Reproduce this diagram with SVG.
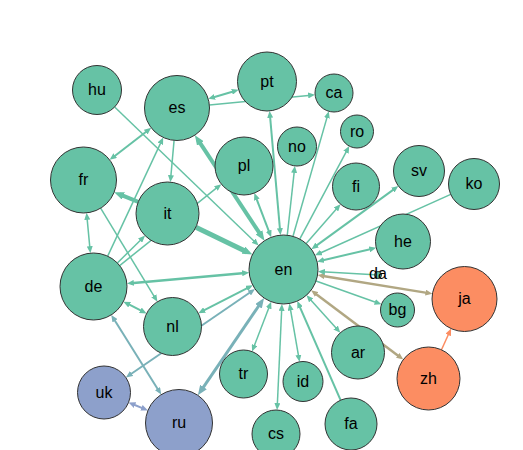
<svg xmlns="http://www.w3.org/2000/svg" width="523" height="450" viewBox="0 0 523 450">
<style>
.n circle{stroke:#333;stroke-width:1}
.n text{font-family:"Liberation Sans",Arial,sans-serif;font-size:16px;text-anchor:middle;fill:#000}
.g circle{fill:#66c2a5}.o circle{fill:#fc8d62}.b circle{fill:#8da0cb}
#links line{fill:none}
.eg{stroke:#66c2a5}.ebg{stroke:#79b1b8}.et{stroke:#b1a783}.eo{stroke:#fc8d62}.eb{stroke:#8da0cb}
</style>
<defs>
<marker id="ag" viewBox="0 0 7 6" refX="3" refY="3" markerWidth="7" markerHeight="6" markerUnits="userSpaceOnUse" orient="auto-start-reverse"><path d="M0,0L7,3L0,6z" fill="#66c2a5"/></marker>
<marker id="agL" viewBox="0 0 10 8" refX="4" refY="4" markerWidth="10" markerHeight="8" markerUnits="userSpaceOnUse" orient="auto-start-reverse"><path d="M0,0L10,4L0,8z" fill="#66c2a5"/></marker>
<marker id="abg" viewBox="0 0 7 6" refX="3" refY="3" markerWidth="7" markerHeight="6" markerUnits="userSpaceOnUse" orient="auto-start-reverse"><path d="M0,0L7,3L0,6z" fill="#79b1b8"/></marker>
<marker id="abgL" viewBox="0 0 10 8" refX="4" refY="4" markerWidth="10" markerHeight="8" markerUnits="userSpaceOnUse" orient="auto-start-reverse"><path d="M0,0L10,4L0,8z" fill="#79b1b8"/></marker>
<marker id="at" viewBox="0 0 7 6" refX="3" refY="3" markerWidth="7" markerHeight="6" markerUnits="userSpaceOnUse" orient="auto-start-reverse"><path d="M0,0L7,3L0,6z" fill="#b1a783"/></marker>
<marker id="ao" viewBox="0 0 7 6" refX="3" refY="3" markerWidth="7" markerHeight="6" markerUnits="userSpaceOnUse" orient="auto-start-reverse"><path d="M0,0L7,3L0,6z" fill="#fc8d62"/></marker>
<marker id="ab" viewBox="0 0 7 6" refX="3" refY="3" markerWidth="7" markerHeight="6" markerUnits="userSpaceOnUse" orient="auto-start-reverse"><path d="M0,0L7,3L0,6z" fill="#8da0cb"/></marker>
</defs>
<g id="links" stroke-width="1.5">
<line class="eg" x1="114.65" y1="106.99" x2="255.76" y2="242.80" marker-end="url(#ag)"/>
<line class="eg" x1="212.02" y1="97.69" x2="234.86" y2="90.96" stroke-width="2" marker-start="url(#ag)" marker-end="url(#ag)"/>
<line class="eg" x1="209.35" y1="104.91" x2="311.11" y2="95.19" marker-end="url(#ag)"/>
<line class="eg" x1="148.08" y1="130.27" x2="112.82" y2="157.43" stroke-width="2" marker-start="url(#ag)" marker-end="url(#ag)"/>
<line class="eg" x1="174.08" y1="140.37" x2="170.69" y2="178.15" marker-end="url(#ag)"/>
<line class="eg" x1="198.19" y1="140.14" x2="261.21" y2="235.69" stroke-width="4" marker-start="url(#agL)" marker-end="url(#agL)"/>
<line class="eg" x1="107.69" y1="256.16" x2="161.54" y2="141.06" marker-end="url(#ag)"/>
<line class="eg" x1="138.24" y1="201.83" x2="119.72" y2="194.44" stroke-width="4" marker-end="url(#agL)"/>
<line class="eg" x1="119.65" y1="265.56" x2="218.24" y2="186.63" marker-end="url(#ag)"/>
<line class="eg" x1="195.87" y1="227.19" x2="247.03" y2="251.89" stroke-width="5" marker-end="url(#agL)"/>
<line class="eg" x1="86.96" y1="216.83" x2="90.00" y2="249.17" marker-start="url(#ag)" marker-end="url(#ag)"/>
<line class="eg" x1="100.63" y1="208.20" x2="155.36" y2="298.30" marker-end="url(#ag)"/>
<line class="eg" x1="117.35" y1="262.97" x2="142.23" y2="238.43" marker-end="url(#ag)"/>
<line class="eg" x1="130.85" y1="283.15" x2="245.16" y2="272.93" stroke-width="2.5" marker-start="url(#ag)" marker-end="url(#ag)"/>
<line class="eg" x1="126.96" y1="303.44" x2="143.06" y2="311.59" stroke-width="2" marker-start="url(#ag)" marker-end="url(#ag)"/>
<line class="eg" x1="201.86" y1="311.42" x2="249.25" y2="287.09" stroke-width="2" marker-start="url(#ag)" marker-end="url(#ag)"/>
<line class="ebg" x1="129.16" y1="375.26" x2="251.74" y2="291.26" stroke-width="2" marker-start="url(#abg)" marker-end="url(#abg)"/>
<line class="ebg" x1="201.23" y1="390.35" x2="260.71" y2="302.98" stroke-width="3" marker-start="url(#abgL)" marker-end="url(#abgL)"/>
<line class="ebg" x1="113.40" y1="318.28" x2="159.10" y2="391.22" stroke-width="2" marker-start="url(#abg)" marker-end="url(#abg)"/>
<line class="eb" x1="132.26" y1="403.99" x2="144.26" y2="408.87" stroke-width="2" marker-start="url(#ab)" marker-end="url(#ab)"/>
<line class="eg" x1="269.74" y1="305.46" x2="253.51" y2="347.85" marker-start="url(#ag)" marker-end="url(#ag)"/>
<line class="eg" x1="281.75" y1="307.96" x2="277.27" y2="406.03" marker-start="url(#ag)" marker-end="url(#ag)"/>
<line class="eg" x1="290.11" y1="307.43" x2="298.88" y2="357.86" marker-start="url(#ag)" marker-end="url(#ag)"/>
<line class="eg" x1="340.59" y1="400.17" x2="298.91" y2="304.79" stroke-width="2" marker-end="url(#ag)"/>
<line class="eg" x1="309.22" y1="298.15" x2="337.63" y2="329.80" marker-start="url(#ag)" marker-end="url(#ag)"/>
<line class="et" x1="314.28" y1="292.63" x2="400.12" y2="357.17" stroke-width="2.5" marker-start="url(#at)" marker-end="url(#at)"/>
<line class="et" x1="321.50" y1="275.69" x2="428.47" y2="293.13" stroke-width="2.5" marker-start="url(#at)" marker-end="url(#at)"/>
<line class="eo" x1="441.49" y1="349.80" x2="449.44" y2="332.25" marker-end="url(#ao)"/>
<line class="eg" x1="316.01" y1="281.05" x2="377.71" y2="302.97" marker-end="url(#ag)"/>
<line class="eg" x1="374.51" y1="274.80" x2="321.93" y2="271.73" marker-end="url(#ag)"/>
<line class="eg" x1="320.98" y1="260.72" x2="372.34" y2="248.68" stroke-width="2" marker-start="url(#ag)" marker-end="url(#ag)"/>
<line class="eg" x1="450.74" y1="194.44" x2="318.62" y2="253.73" marker-end="url(#ag)"/>
<line class="eg" x1="314.65" y1="246.86" x2="395.14" y2="188.34" stroke-width="2" marker-start="url(#ag)" marker-end="url(#ag)"/>
<line class="eg" x1="306.19" y1="243.52" x2="337.91" y2="207.21" marker-end="url(#ag)"/>
<line class="eg" x1="299.72" y1="239.05" x2="347.36" y2="149.59" marker-end="url(#ag)"/>
<line class="eg" x1="292.99" y1="236.33" x2="327.67" y2="115.12" marker-end="url(#ag)"/>
<line class="eg" x1="287.26" y1="235.21" x2="294.43" y2="169.86" marker-end="url(#ag)"/>
<line class="eg" x1="280.13" y1="231.15" x2="269.93" y2="114.87" stroke-width="2" marker-start="url(#ag)" marker-end="url(#ag)"/>
<line class="eg" x1="269.77" y1="233.53" x2="255.77" y2="196.83" stroke-width="2" marker-start="url(#ag)" marker-end="url(#ag)"/>
</g>
<g id="nodes">
<g id="n-hu" class="n g"><circle cx="97" cy="90" r="24.5"/><text x="97" y="95">hu</text></g>
<g id="n-es" class="n g"><circle cx="177" cy="108" r="32.5"/><text x="177" y="113">es</text></g>
<g id="n-pt" class="n g"><circle cx="267" cy="81.5" r="29.5"/><text x="267" y="86.5">pt</text></g>
<g id="n-ca" class="n g"><circle cx="334" cy="93" r="19"/><text x="334" y="98">ca</text></g>
<g id="n-ro" class="n g"><circle cx="357" cy="131.5" r="16.5"/><text x="357" y="136.5">ro</text></g>
<g id="n-no" class="n g"><circle cx="297" cy="146.5" r="19.5"/><text x="297" y="151.5">no</text></g>
<g id="n-pl" class="n g"><circle cx="244" cy="166" r="29"/><text x="244" y="171">pl</text></g>
<g id="n-fi" class="n g"><circle cx="356" cy="186.5" r="23.5"/><text x="356" y="191.5">fi</text></g>
<g id="n-sv" class="n g"><circle cx="419" cy="171" r="25.5"/><text x="419" y="176">sv</text></g>
<g id="n-ko" class="n g"><circle cx="474" cy="184" r="25.5"/><text x="474" y="189">ko</text></g>
<g id="n-fr" class="n g"><circle cx="83.5" cy="180" r="33"/><text x="83.5" y="185">fr</text></g>
<g id="n-it" class="n g"><circle cx="167.5" cy="213.5" r="31.5"/><text x="167.5" y="218.5">it</text></g>
<g id="n-en" class="n g"><circle cx="283.5" cy="269.5" r="34.5"/><text x="283.5" y="274.5">en</text></g>
<g id="n-he" class="n g"><circle cx="403" cy="241.5" r="27.5"/><text x="403" y="246.5">he</text></g>
<g id="n-da" class="n g"><circle cx="378" cy="275" r="3.5"/><text x="378" y="279">da</text></g>
<g id="n-ja" class="n o"><circle cx="464.5" cy="299" r="32.5"/><text x="464.5" y="304">ja</text></g>
<g id="n-bg" class="n g"><circle cx="397.5" cy="310" r="17"/><text x="397.5" y="315">bg</text></g>
<g id="n-ar" class="n g"><circle cx="358" cy="352.5" r="26.5"/><text x="358" y="357.5">ar</text></g>
<g id="n-zh" class="n o"><circle cx="428.5" cy="378.5" r="31.5"/><text x="428.5" y="383.5">zh</text></g>
<g id="n-id" class="n g"><circle cx="303" cy="381.5" r="20"/><text x="303" y="386.5">id</text></g>
<g id="n-fa" class="n g"><circle cx="351" cy="424" r="26"/><text x="351" y="429">fa</text></g>
<g id="n-cs" class="n g"><circle cx="276" cy="434" r="24"/><text x="276" y="439">cs</text></g>
<g id="n-tr" class="n g"><circle cx="243.5" cy="374" r="24"/><text x="243.5" y="379">tr</text></g>
<g id="n-de" class="n g"><circle cx="93.5" cy="286.5" r="33.5"/><text x="93.5" y="291.5">de</text></g>
<g id="n-nl" class="n g"><circle cx="172.5" cy="326.5" r="29"/><text x="172.5" y="331.5">nl</text></g>
<g id="n-uk" class="n b"><circle cx="104" cy="392.5" r="26.5"/><text x="104" y="397.5">uk</text></g>
<g id="n-ru" class="n b"><circle cx="179" cy="423" r="33.5"/><text x="179" y="428">ru</text></g>
</g>
</svg>
